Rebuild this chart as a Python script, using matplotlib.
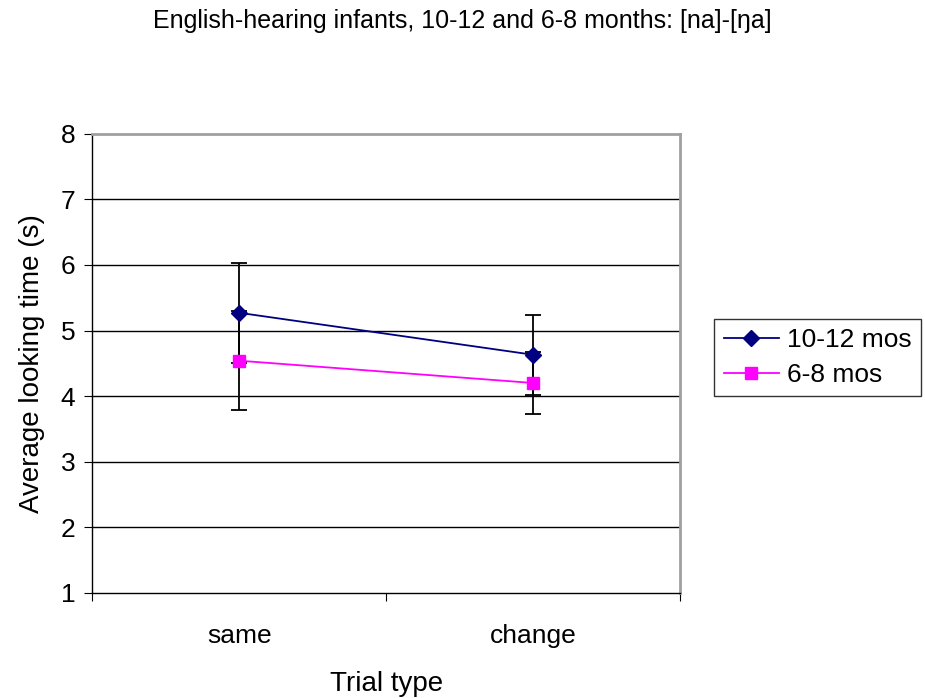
import matplotlib
matplotlib.use("Agg")
from matplotlib import pyplot as plt

plt.rcParams['font.family'] = ['Liberation Sans', 'DejaVu Sans']

trial_types = ["same", "change"]
older_means = [5.27, 4.63]
older_err = [0.76, 0.61]
younger_means = [4.54, 4.20]
younger_err = [0.75, 0.47]
series_labels = ["10-12 mos", "6-8 mos"]

fig = plt.figure(figsize=(9.25, 6.98), dpi=100)
ax = fig.add_axes([0.0995, 0.1505, 0.636, 0.658])

x = [0.5, 1.5]

# gridlines
for yv in range(2, 8):
    ax.axhline(yv, color="black", lw=1.0, zorder=1)

ax.errorbar(x, older_means, yerr=older_err, fmt="none", ecolor="black",
            elinewidth=1.3, capsize=5.5, capthick=1.3, zorder=2)
ax.errorbar(x, younger_means, yerr=younger_err, fmt="none", ecolor="black",
            elinewidth=1.3, capsize=5.5, capthick=1.3, zorder=2)

ax.plot(x, older_means, color="#000080", marker="D", markersize=8.5,
        lw=1.3, label=series_labels[0], zorder=3)
ax.plot(x, younger_means, color="#FF00FF", marker="s", markersize=8.5,
        lw=1.3, label=series_labels[1], zorder=3)

ax.set_xlim(0, 2)
ax.set_ylim(1, 8)
ax.set_yticks(range(1, 9))
ax.set_xticks([0, 1, 2])
ax.set_xticklabels([])
ax.set_xticks(x, minor=True)
ax.set_xticklabels(trial_types, minor=True)
ax.tick_params(axis="x", which="minor", length=0, pad=22, labelsize=19)
ax.tick_params(axis="x", which="major", direction="out", length=6)
ax.tick_params(axis="y", direction="out", length=6, labelsize=19, pad=6)

for side in ["top", "right"]:
    ax.spines[side].set_color("#a0a0a0")
    ax.spines[side].set_linewidth(2)
ax.spines["left"].set_linewidth(1.0)
ax.spines["bottom"].set_linewidth(1.0)

ax.set_xlabel("Trial type", fontsize=20, labelpad=17)
ax.set_ylabel("Average looking time (s)", fontsize=20, labelpad=11)

fig.text(0.5, 0.97, "English-hearing infants, 10-12 and 6-8 months: [na]-[ŋa]",
         ha="center", va="center", fontsize=18)

leg = ax.legend(loc="upper left", bbox_to_anchor=(1.058, 0.596), frameon=True,
                fancybox=False, fontsize=19, handlelength=2.1,
                borderpad=0.35, labelspacing=0.4, handletextpad=0.3,
                borderaxespad=0)
leg.get_frame().set_edgecolor("black")
leg.get_frame().set_linewidth(1.0)

plt.savefig("out.png", dpi=100)
